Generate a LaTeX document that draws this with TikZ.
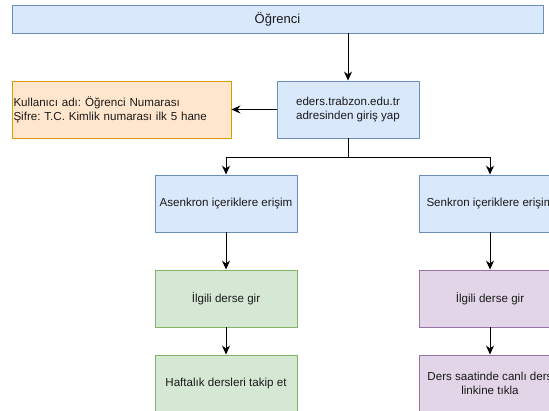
\documentclass[tikz,border=0pt]{standalone}
\usepackage{fontspec}
\setmainfont{Liberation Sans}
\frenchspacing
\usetikzlibrary{arrows.meta}
\definecolor{bfill}{HTML}{DAE8FC}\definecolor{bdraw}{HTML}{6C8EBF}
\definecolor{gfill}{HTML}{D5E8D4}\definecolor{gdraw}{HTML}{82B366}
\definecolor{pfill}{HTML}{E1D5E7}\definecolor{pdraw}{HTML}{9673A6}
\definecolor{ofill}{HTML}{FFE6CC}\definecolor{odraw}{HTML}{D79B00}
\definecolor{txt}{HTML}{1A1A1A}
\tikzset{
  box/.style={rectangle, minimum width=142pt, minimum height=57pt, inner sep=0pt, line width=0.9pt, font=\fontsize{11.6}{14}\selectfont\frenchspacing, text=txt, align=center},
  bluebox/.style={box, fill=bfill, draw=bdraw},
  greenbox/.style={box, fill=gfill, draw=gdraw},
  purplebox/.style={box, fill=pfill, draw=pdraw},
  orangebox/.style={box, fill=ofill, draw=odraw, minimum width=219pt, text width=216pt, inner xsep=1.5pt, align=left},
  conn/.style={line width=0.9pt, -{Stealth[length=9pt,width=8pt,inset=3pt]}},
  plain/.style={line width=0.9pt}
}
\begin{document}
\begin{tikzpicture}[x=1pt,y=-1pt]
\useasboundingbox (0,0) rectangle (549,410);
\clip (0,0) rectangle (549,410);
\node[bluebox, minimum width=531pt, minimum height=28pt, font=\fontsize{13}{15}\selectfont] (top) at (277.5,19) {Öğrenci};
\node[bluebox] (eders) at (348,109.5) {eders.trabzon.edu.tr\\adresinden giriş yap};
\node[orangebox] (info) at (121.5,109.5) {Kullanıcı adı: Öğrenci Numarası\\Şifre: T.C. Kimlik numarası ilk 5 hane};
\node[bluebox] (asenk) at (226,203.5) {Asenkron içeriklere erişim};
\node[bluebox] (senk) at (490,203.5) {Senkron içeriklere erişim};
\node[greenbox] (g1) at (226,298.5) {İlgili derse gir};
\node[purplebox] (p1) at (490,298.5) {İlgili derse gir};
\node[greenbox] (g2) at (226,383.5) {Haftalık dersleri takip et};
\node[purplebox] (p2) at (490,383.5) {Ders saatinde canlı ders\\linkine tıkla};
\coordinate (split) at (348,157);
\draw[conn] (top.south -| eders.north) -- (eders.north);
\draw[conn] (eders.west) -- (info.east);
\draw[plain] (eders.south) -- (split);
\draw[conn] (split) -| (asenk.north);
\draw[conn] (split) -| (senk.north);
\draw[conn] (asenk) -- (g1);
\draw[conn] (g1) -- (g2);
\draw[conn] (senk) -- (p1);
\draw[conn] (p1) -- (p2);
\end{tikzpicture}
\end{document}
